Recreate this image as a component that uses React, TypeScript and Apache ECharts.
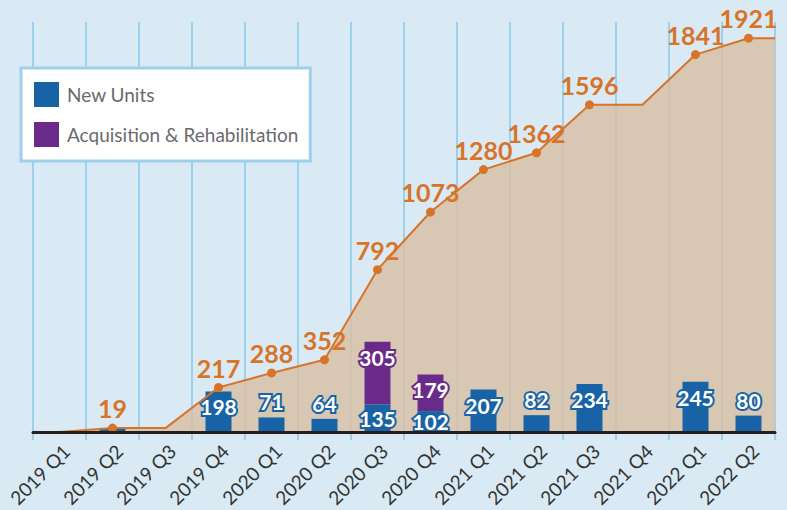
import React, { useEffect, useRef } from "react";
import * as echarts from "echarts";

const categories = [
  "2019 Q1", "2019 Q2", "2019 Q3", "2019 Q4",
  "2020 Q1", "2020 Q2", "2020 Q3", "2020 Q4",
  "2021 Q1", "2021 Q2", "2021 Q3", "2021 Q4",
  "2022 Q1", "2022 Q2",
];
const newUnits = [0, 19, 0, 198, 71, 64, 135, 102, 207, 82, 234, 0, 245, 80];
const acquisition = [0, 0, 0, 0, 0, 0, 305, 179, 0, 0, 0, 0, 0, 0];
const cumulative = [0, 19, 19, 217, 288, 352, 792, 1073, 1280, 1362, 1596, 1596, 1841, 1921];

const BLUE = "#1763a6";
const PURPLE = "#6a2a8a";
const ORANGE = "#d7742a";
const GRIDLINE = "#9dd0ea";
const FONT = "Lato, 'Noto Sans', sans-serif";

export default function App() {
  const ref = useRef<HTMLDivElement>(null);
  useEffect(() => {
    document.body.style.margin = "0";
    if (!ref.current) return;
    const chart = echarts.init(ref.current, undefined, { renderer: "svg" });

    const hasDot = cumulative.map((c, i) => i > 0 && c > cumulative[i - 1]);

    const areaData: any[] = cumulative.map((c, i) => [i, c]);
    areaData.push([categories.length - 0.5, cumulative[cumulative.length - 1]]);

    const lineData: any[] = cumulative.map((c, i) => ({
      value: [i, c],
      symbol: hasDot[i] ? "circle" : "none",
      label: { show: hasDot[i] },
    }));
    lineData.push({
      value: [categories.length - 0.5, cumulative[cumulative.length - 1]],
      symbol: "none",
      label: { show: false },
    });

    const blueLabel = {
      show: true,
      color: "#fff",
      fontFamily: FONT,
      fontWeight: "bold",
      fontSize: 21,
      textBorderColor: BLUE,
      textBorderWidth: 4,
    };

    const newData = newUnits.map((v, i) => {
      if (!v) return null;
      const stacked = acquisition[i] > 0;
      const hide = v < 50 && !stacked;
      return {
        value: v,
        label: {
          ...blueLabel,
          show: !hide,
          position: stacked ? "inside" : v >= 100 ? "insideTop" : "top",
        },
      };
    });

    const acqData = acquisition.map((v) => (v ? v : null));

    chart.setOption({
      animation: false,
      backgroundColor: "#d9eaf4",
      grid: {
        left: 33,
        right: 12,
        top: 22,
        bottom: 78,
        containLabel: false,
        outerBoundsMode: "none",
      },
      legend: {
        orient: "vertical",
        left: 21,
        top: 68,
        data: ["New Units", "Acquisition & Rehabilitation"],
        icon: "rect",
        itemWidth: 25,
        itemHeight: 25,
        itemGap: 15,
        backgroundColor: "#ffffff",
        borderColor: GRIDLINE,
        borderWidth: 3,
        borderRadius: 0,
        padding: [14, 12, 14, 13],
        textStyle: {
          fontFamily: FONT,
          fontSize: 19,
          color: "#6a6b6e",
          padding: [0, 0, 0, 3],
        },
      },
      xAxis: [
        {
          type: "category",
          data: categories,
          boundaryGap: true,
          axisLine: { show: false },
          axisTick: {
            show: true,
            interval: 0,
            length: 8,
            lineStyle: { color: GRIDLINE, width: 2 },
          },
          splitLine: {
            show: true,
            interval: 0,
            lineStyle: { color: GRIDLINE, width: 2 },
          },
          axisLabel: {
            interval: 0,
            rotate: 45,
            margin: 9,
            verticalAlign: "top",
            fontFamily: FONT,
            fontSize: 19,
            color: "#333",
          },
        },
        {
          type: "value",
          min: -0.5,
          max: categories.length - 0.5,
          show: false,
        },
        {
          type: "category",
          data: categories,
          position: "bottom",
          z: 10,
          axisLine: { show: true, lineStyle: { color: "#231f20", width: 3 } },
          axisTick: { show: false },
          axisLabel: { show: false },
          splitLine: { show: false },
        },
      ],
      yAxis: {
        type: "value",
        min: 0,
        max: 2000,
        show: false,
        splitLine: { show: false },
      },
      series: [
        {
          name: "area",
          type: "line",
          xAxisIndex: 1,
          data: areaData,
          symbol: "none",
          lineStyle: { width: 0 },
          areaStyle: { color: "rgb(216,191,164)", opacity: 0.82 },
          z: 1,
          silent: true,
        },
        {
          name: "New Units",
          type: "bar",
          stack: "units",
          barWidth: 26,
          itemStyle: { color: BLUE },
          data: newData,
          z: 3,
        },
        {
          name: "Acquisition & Rehabilitation",
          type: "bar",
          stack: "units",
          barWidth: 26,
          itemStyle: { color: PURPLE },
          label: {
            show: true,
            position: "insideTop",
            color: "#fff",
            fontFamily: FONT,
            fontWeight: "bold",
            fontSize: 21,
            textBorderColor: PURPLE,
            textBorderWidth: 4,
          },
          data: acqData,
          z: 3,
        },
        {
          name: "cumulative",
          type: "line",
          xAxisIndex: 1,
          data: lineData,
          symbolSize: 9,
          lineStyle: { color: ORANGE, width: 2 },
          itemStyle: { color: ORANGE },
          label: {
            position: "top",
            distance: 3,
            color: ORANGE,
            fontFamily: FONT,
            fontWeight: "bold",
            fontSize: 25,
            formatter: (p: any) => String(p.value[1]),
          },
          z: 5,
        },
      ],
    });
    return () => chart.dispose();
  }, []);
  return <div ref={ref} style={{ width: 787, height: 510 }} />;
}
